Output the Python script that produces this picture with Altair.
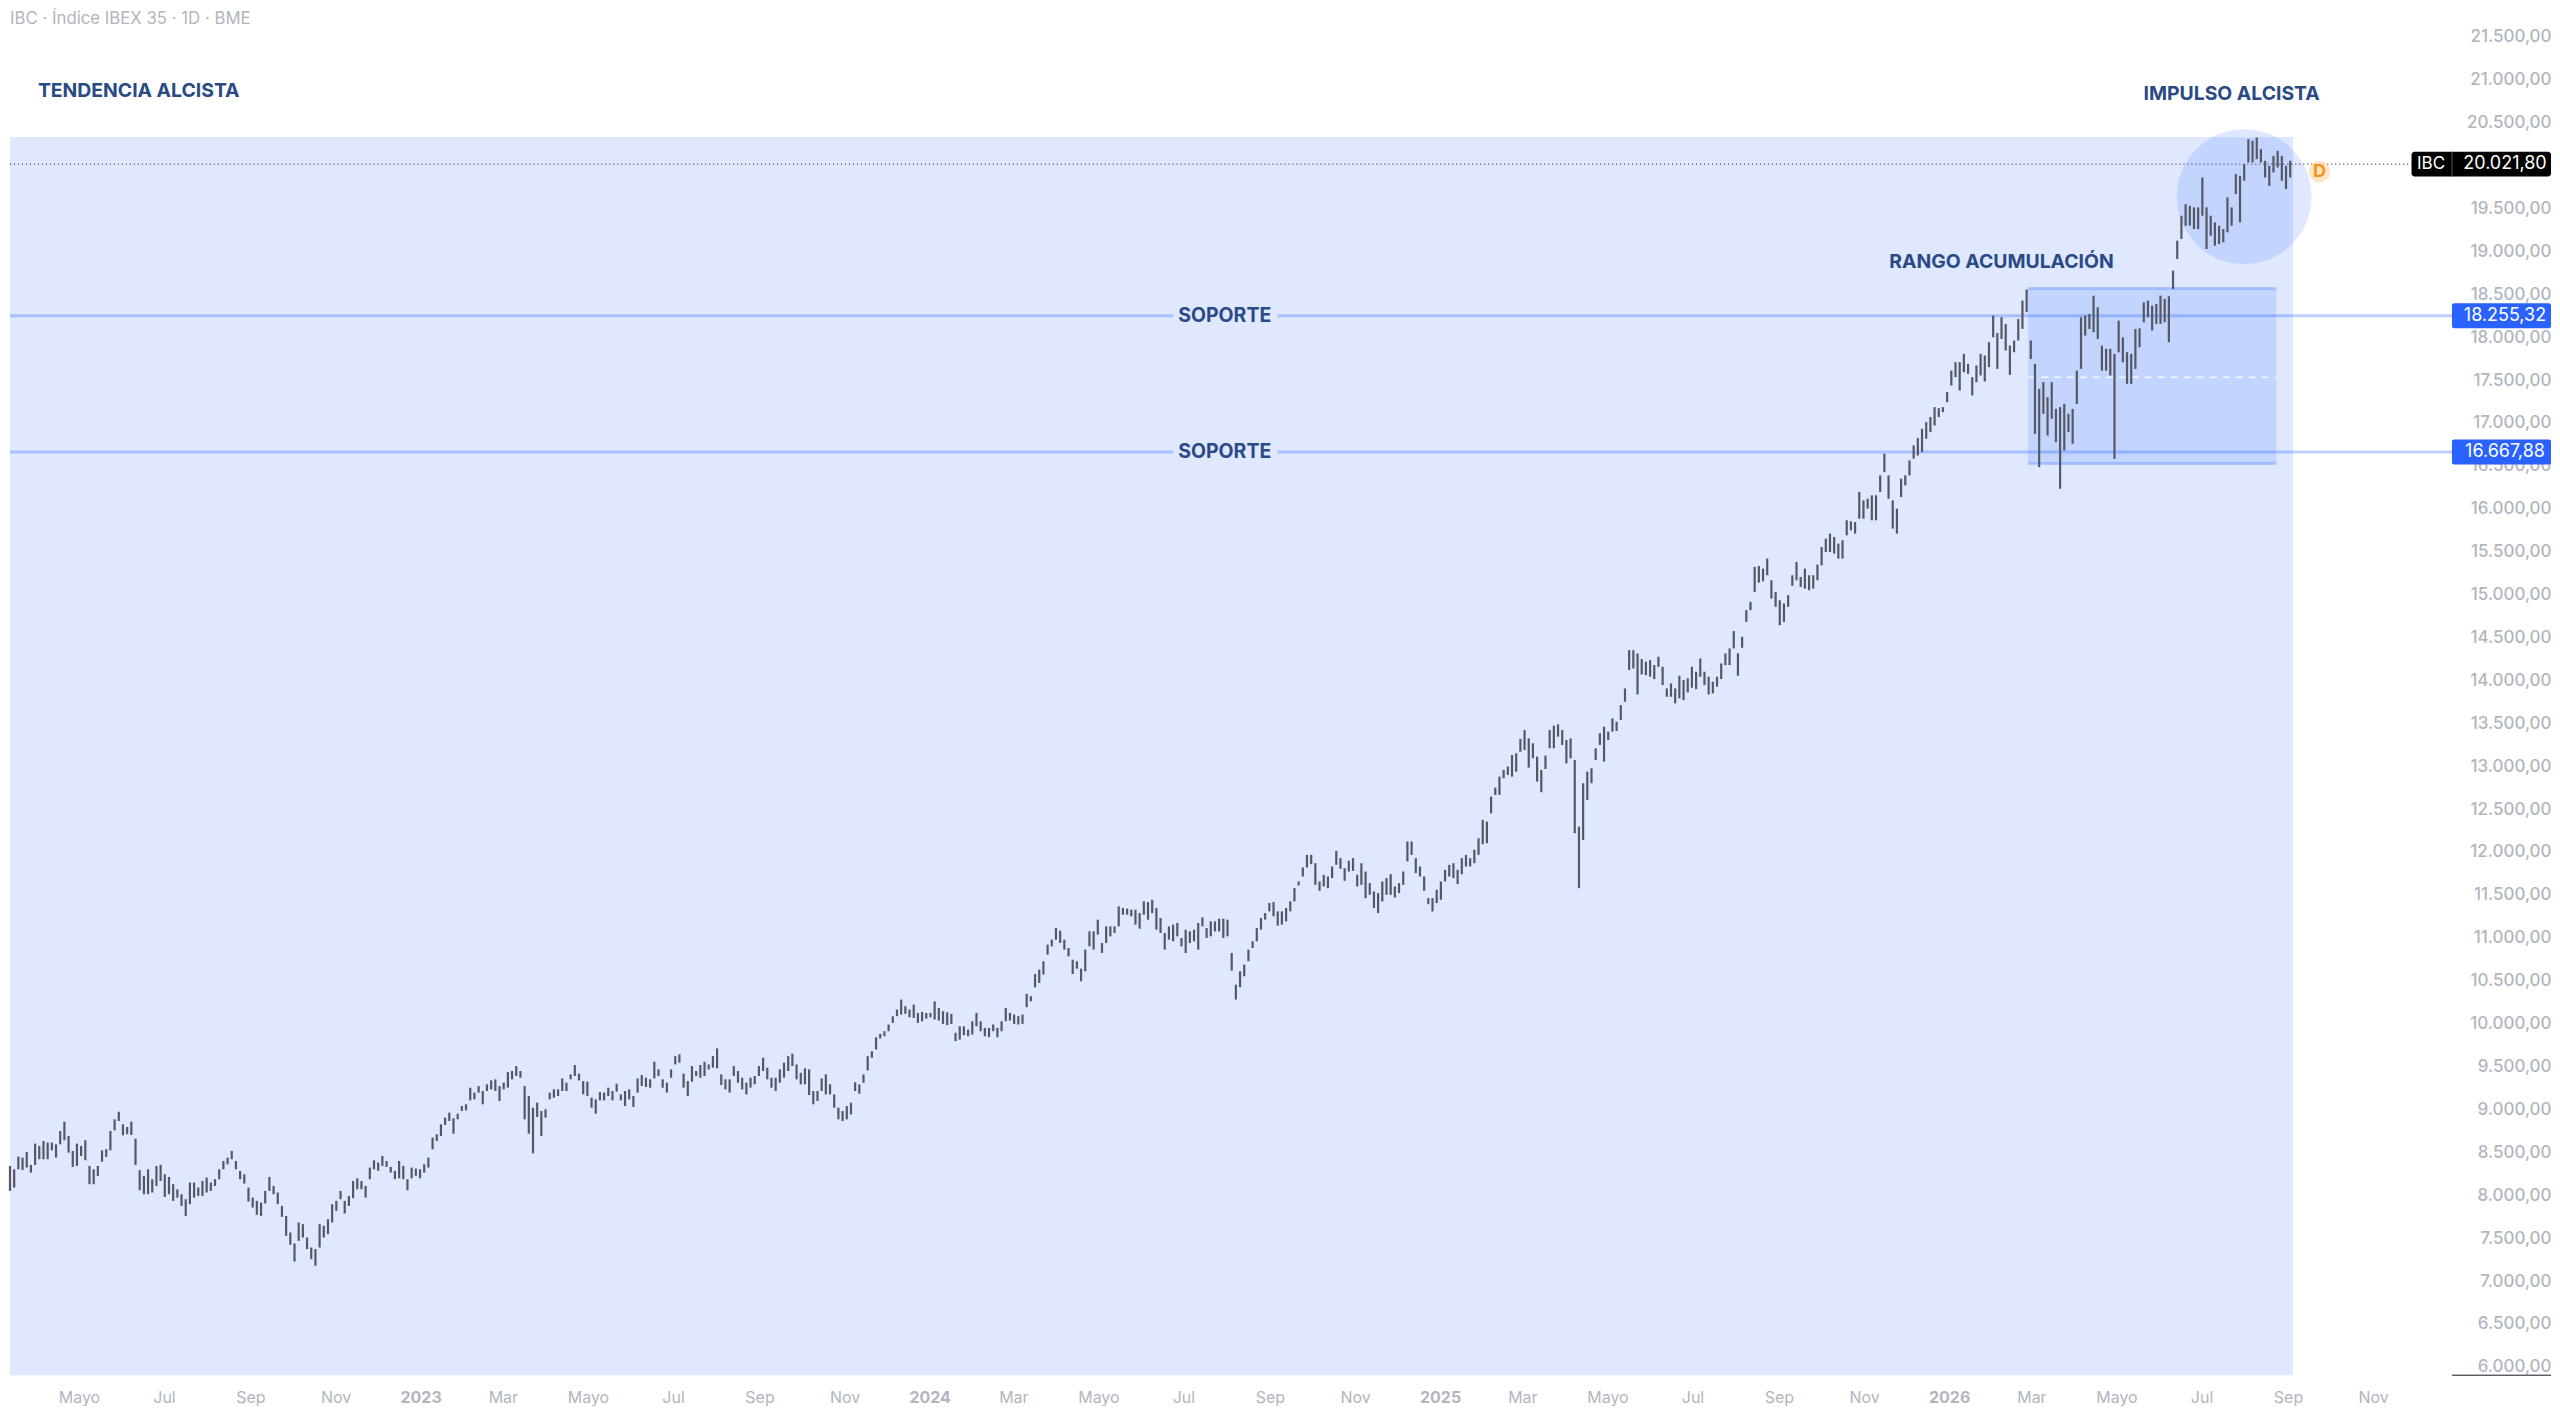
import json

import altair as alt
import pandas as pd

# bar ranges, one pair every three days from mid March 2022
high = [
    8347, 8308, 8456, 8444, 8510, 8359, 8607, 8580, 8638, 8619,
    8619, 8599, 8754, 8863, 8696, 8522, 8607, 8580, 8646, 8347,
    8308, 8347, 8529, 8541, 8754, 8890, 8979, 8832, 8801, 8863,
    8665, 8297, 8231, 8308, 8192, 8347, 8359, 8250, 8219, 8134,
    8075, 8017, 7959, 8153, 8153, 8095, 8172, 8211, 8153, 8192,
    8308, 8405, 8444, 8522, 8405, 8289, 8250, 8095, 7978, 7940,
    7920, 8056, 8219, 8114, 8037, 7881, 7765, 7571, 7443, 7687,
    7668, 7513, 7396, 7377, 7668, 7649, 7726, 7901, 7940, 8056,
    7940, 7998, 8172, 8203, 8172, 8114, 8328, 8413, 8386, 8463,
    8405, 8335, 8289, 8405,
    8347, 8192, 8328, 8316, 8308, 8366, 8444, 8677, 8716, 8832,
    8910, 8968, 8902, 8956, 9045, 9065, 9259, 9201, 9278, 9220,
    9298, 9344, 9356, 9278, 9317, 9441, 9453, 9511, 9453, 9278,
    9162, 9026, 9084, 8987, 9007, 9201, 9239, 9239, 9367, 9317,
    9414, 9523, 9422, 9336, 9329, 9142, 9123, 9208, 9201, 9259,
    9220, 9305, 9181, 9220, 9239, 9162, 9367, 9406, 9375, 9356,
    9561, 9472, 9356, 9317, 9472, 9627, 9647, 9422, 9336, 9511,
    9453, 9523, 9561, 9530, 9627, 9717, 9414, 9356, 9356, 9511,
    9453, 9375, 9317, 9375, 9395, 9511, 9608, 9492, 9375, 9375,
    9472, 9550, 9627, 9655, 9530, 9433, 9484, 9472, 9220, 9220,
    9367, 9414, 9298, 9181, 9026, 8987, 9045, 9084,
    9323, 9296, 9413, 9626, 9684, 9847, 9886, 9917, 9995, 10092,
    10169, 10286, 10208, 10169, 10227, 10130, 10142, 10130, 10130, 10266,
    10189, 10150, 10138, 10119, 9898, 9975, 9975, 9936, 10033, 10130,
    10033, 9956, 9956, 9995, 9956, 10033, 10189, 10130, 10111, 10092,
    10111, 10352, 10324, 10584, 10635, 10732, 10926, 10984, 11120, 11089,
    10984, 10887, 10751, 10732, 10646, 10868, 11081, 11081, 11217, 10945,
    11139, 11139, 11139, 11372, 11353, 11345, 11333, 11333, 11294, 11430,
    11422, 11449, 11353, 11236, 11062, 11139, 11159, 11178, 11003, 11100,
    11081, 11100, 11178, 11244, 11120, 11197, 11197, 11228, 11228, 11217,
    10829, 10460, 10615, 10693, 10868, 10965, 11120, 11236, 11294, 11411,
    11422, 11314, 11314, 11353, 11430, 11585, 11663,
    11825, 11972, 11972, 11875, 11662, 11740, 11720, 11837, 12019, 11934,
    11817, 11903, 11934, 11740, 11875, 11778, 11643, 11546, 11526, 11662,
    11701, 11747, 11604, 11643, 11778, 12128, 12128, 11934, 11837, 11720,
    11468, 11468, 11565, 11662, 11798, 11856, 11875, 11798, 11934, 11972,
    11934, 12031, 12166, 12380, 12360, 12651, 12756, 12884, 12962, 13001,
    13136, 13156, 13323, 13427, 13330, 13272, 13117, 12962, 13129, 13427,
    13478, 13493, 13427, 13311, 13330, 13078, 12302, 12807, 12942, 12981,
    13214, 13389, 13466, 13408, 13563, 13524, 13718, 13912,
    14358, 14358, 14320, 14254, 14223, 14242, 14184, 14281, 14164, 13912,
    13970, 13912, 14060, 14009, 14029, 14164, 14106, 14261, 14106, 14048,
    13990, 14048, 14203, 14320, 14378, 14580, 14320, 14514, 14824, 14921,
    15328, 15339, 15308, 15425, 15172, 15037, 14940, 14901, 14998, 15231,
    15386, 15211, 15308, 15231, 15231, 15355, 15560, 15657, 15716, 15677,
    15599, 15638, 15871, 15859, 15851, 16201, 16104, 16123, 16162, 16162,
    16395, 16647, 16395, 16104, 16007, 16356, 16395, 16569, 16744, 16829,
    16938, 17015, 17074, 17190, 17178, 17190, 17365, 17617, 17714, 17714,
    17811, 17694, 17539, 17675, 17811, 17791, 17947, 18257, 18055, 18238,
    18160, 17908, 17966, 18218, 18432, 18560,
    17966, 17694, 17403, 17481, 17306, 17481, 17170, 17190, 17228, 17112,
    17170, 17616, 18237, 18257, 18276, 18489, 18354, 17907, 17869, 17869,
    17810, 18198, 18004, 17830, 17810, 18101, 18109, 18412, 18431, 18373,
    18392, 18489, 18451, 18482, 18780, 19130, 19421, 19556, 19537, 19518,
    19518, 19867, 19518, 19421, 19343, 19304, 19265, 19634, 19518, 19906,
    19886, 20022, 20313, 20294, 20332, 20197, 20061, 20003, 20119, 20177,
    20119, 20003, 20061,
]
low = [
    8056, 8095, 8308, 8300, 8328, 8269, 8359, 8425, 8425, 8425,
    8529, 8444, 8599, 8646, 8502, 8335, 8347, 8463, 8413, 8134,
    8134, 8231, 8397, 8452, 8529, 8762, 8871, 8704, 8716, 8708,
    8359, 8064, 8017, 8017, 8037, 8114, 8172, 7986, 8017, 7940,
    7978, 7881, 7765, 7901, 7978, 7998, 7998, 8037, 8056, 8114,
    8192, 8308, 8366, 8425, 8308, 8192, 8141, 7932, 7862, 7777,
    7765, 7909, 8056, 8017, 7901, 7753, 7532, 7427, 7233, 7474,
    7513, 7377, 7261, 7183, 7396, 7513, 7552, 7687, 7823, 7959,
    7792, 7881, 7971, 8075, 8075, 7978, 8192, 8308, 8289, 8347,
    8335, 8269, 8192, 8203,
    8192, 8064, 8203, 8231, 8203, 8269, 8328, 8541, 8638, 8696,
    8824, 8871, 8723, 8890, 8987, 8995, 9111, 9123, 9201, 9065,
    9220, 9239, 9220, 9104, 9239, 9259, 9356, 9395, 9375, 8890,
    8723, 8494, 8917, 8696, 8910, 9123, 9142, 9162, 9220, 9220,
    9356, 9395, 9344, 9181, 9162, 9026, 8956, 9111, 9111, 9162,
    9111, 9212, 9111, 9045, 9123, 9034, 9201, 9278, 9267, 9259,
    9367, 9395, 9259, 9201, 9375, 9530, 9550, 9259, 9162, 9329,
    9395, 9375, 9395, 9472, 9492, 9484, 9290, 9239, 9201, 9395,
    9317, 9239, 9181, 9259, 9298, 9395, 9453, 9356, 9259, 9220,
    9317, 9375, 9453, 9511, 9356, 9298, 9298, 9173, 9065, 9104,
    9220, 9181, 9181, 9026, 8890, 8871, 8890, 8948,
    9219, 9188, 9316, 9459, 9607, 9704, 9832, 9859, 9917, 10014,
    10092, 10111, 10119, 10080, 10072, 10014, 10033, 10064, 10080, 10053,
    10041, 10002, 9987, 10002, 9801, 9820, 9870, 9859, 9878, 9975,
    9917, 9859, 9847, 9917, 9847, 9917, 10033, 10041, 10002, 9995,
    10002, 10196, 10266, 10429, 10480, 10577, 10809, 10906, 10984, 10945,
    10868, 10790, 10584, 10646, 10499, 10615, 10906, 10868, 11042, 10829,
    10945, 11023, 11062, 11139, 11275, 11275, 11256, 11159, 11112, 11275,
    11217, 11294, 11100, 11062, 10868, 10984, 10965, 11023, 10906, 10829,
    10945, 10965, 10868, 11139, 11003, 11023, 11081, 11081, 11003, 11023,
    10623, 10286, 10429, 10557, 10732, 10887, 10965, 11100, 11217, 11314,
    11256, 11147, 11159, 11197, 11314, 11430, 11616,
    11720, 11825, 11864, 11623, 11553, 11604, 11584, 11701, 11856, 11809,
    11670, 11778, 11786, 11604, 11623, 11468, 11507, 11352, 11293, 11429,
    11507, 11507, 11476, 11526, 11623, 11895, 11972, 11759, 11720, 11553,
    11398, 11313, 11410, 11449, 11662, 11720, 11701, 11631, 11747, 11837,
    11837, 11875, 11972, 12097, 12108, 12457, 12671, 12671, 12865, 12904,
    12884, 12942, 13175, 13195, 12989, 13098, 12826, 12702, 12973, 13214,
    13214, 13350, 13253, 13039, 13098, 12225, 11584, 12147, 12613, 12807,
    13078, 13253, 13059, 13311, 13408, 13416, 13544, 13757,
    14126, 14145, 13842, 14075, 14067, 14048, 14021, 14164, 13951, 13815,
    13815, 13738, 13796, 13776, 13866, 13920, 13904, 14048, 13951, 13842,
    13854, 13932, 14021, 14184, 14184, 14378, 14060, 14386, 14688, 14824,
    15037, 15145, 15161, 15231, 14959, 14862, 14649, 14687, 14862, 15107,
    15172, 15095, 15075, 15056, 15075, 15172, 15347, 15502, 15502, 15483,
    15425, 15425, 15696, 15754, 15716, 15890, 15890, 16007, 15871, 15871,
    16201, 16433, 16123, 15774, 15716, 16142, 16278, 16395, 16589, 16627,
    16666, 16821, 16899, 16977, 17074, 17132, 17248, 17442, 17539, 17384,
    17597, 17578, 17326, 17481, 17559, 17489, 17656, 18005, 17636, 17985,
    17850, 17566, 17830, 17966, 18102, 18296,
    17752, 16879, 16491, 17112, 16860, 17054, 16782, 16239, 16685, 16899,
    16763, 17228, 17636, 18024, 18101, 18063, 17985, 17616, 17616, 17558,
    16588, 17830, 17713, 17461, 17461, 17636, 17888, 18179, 18237, 18082,
    18160, 18160, 18179, 17946, 18567, 18916, 19149, 19304, 19304, 19265,
    19265, 19421, 19033, 19188, 19071, 19091, 19110, 19227, 19304, 19673,
    19343, 19828, 20041, 20041, 20080, 20041, 19867, 19770, 19925, 19983,
    19828, 19731, 19867,
]

tick_dates = [
    "2022-05-01", "2022-07-01", "2022-09-01", "2022-11-01", "2023-01-01", "2023-03-01", "2023-05-01",
    "2023-07-01", "2023-09-01", "2023-11-01", "2024-01-01", "2024-03-01", "2024-05-01", "2024-07-01",
    "2024-09-01", "2024-11-01", "2025-01-01", "2025-03-01", "2025-05-01", "2025-07-01", "2025-09-01",
    "2025-11-01", "2026-01-01", "2026-03-01", "2026-05-01", "2026-07-01", "2026-09-01", "2026-11-01",
]
tick_labels = [
    "Mayo", "Jul", "Sep", "Nov", "2023", "Mar", "Mayo",
    "Jul", "Sep", "Nov", "2024", "Mar", "Mayo", "Jul",
    "Sep", "Nov", "2025", "Mar", "Mayo", "Jul", "Sep",
    "Nov", "2026", "Mar", "Mayo", "Jul", "Sep", "Nov",
]
price_ticks = list(range(6000, 22000, 500))

last_price = 20021.80
support_prices = [18255.32, 16667.88]
support_labels = ["18.255,32", "16.667,88"]
range_top = 18572
range_bottom = 16532
range_mid = 17537

notes = ["TENDENCIA ALCISTA", "IMPULSO ALCISTA", "RANGO ACUMULACIÓN"]
note_dates = ["2022-04-03", "2026-07-24", "2026-02-09"]
note_prices = [20873, 20841, 18883]
note_aligns = ["left", "center", "center"]

DOMAIN_START = "2022-03-14"
DOMAIN_END = "2027-03-10"
PRICE_MIN = 5908
PRICE_MAX = 21832
SHADE_TOP = 20337
SHADE_END = "2026-09-06"
RANGE_START = "2026-02-28"
RANGE_END = "2026-08-25"
TAG_START = "2026-12-29"
TAG_MID = "2027-02-05"
BADGE_START = "2026-11-30"
BADGE_MID = "2026-12-14"
GAP_START = "2024-06-25"
GAP_MID = "2024-08-01"
GAP_END = "2024-09-08"

NAVY = "#2a4a85"
GREY = "#b2b5be"
BLUE = "#2962ff"
FONT = "Inter"


def ms(day):
    return int(pd.Timestamp(day, tz="UTC").timestamp() * 1000)


x_scale = alt.Scale(type="utc", domain=[ms(DOMAIN_START), ms(DOMAIN_END)])
y_scale = alt.Scale(domain=[PRICE_MIN, PRICE_MAX])

tick_map = json.dumps({str(ms(d)): label for d, label in zip(tick_dates, tick_labels)})
x_axis = alt.Axis(
    values=[ms(d) for d in tick_dates],
    labelExpr=f"{tick_map}[toNumber(datum.value)]",
    labelFontWeight={"condition": {"test": "utcmonth(datum.value) == 0", "value": "bold"}, "value": "normal"},
    title=None, grid=False, domain=False, ticks=False,
    labelColor=GREY, labelFont=FONT, labelFontSize=16, labelPadding=14, labelOffset=2,
    labelOverlap=False, labelFlush=False,
)
y_axis = alt.Axis(
    orient="right", values=price_ticks,
    labelExpr="replace(replace(replace(format(datum.value, ',.2f'), ',', '_'), '.', ','), '_', '.')",
    title=None, grid=False, domain=False, ticks=False,
    labelColor=GREY, labelFont=FONT, labelFontSize=17, labelFontWeight=500,
    labelAlign="right", labelPadding=0, labelOverlap=False, labelBound=False, labelOffset=-0.5,
)


def x_at(field):
    return alt.X(f"{field}:T", scale=x_scale, axis=x_axis)


def y_at(field):
    return alt.Y(f"{field}:Q", scale=y_scale, axis=y_axis)


def area(x1, x2, y1, y2, **style):
    table = pd.DataFrame({"x1": [x1], "x2": [x2], "y1": [y1], "y2": [y2]})
    return alt.Chart(table).mark_rect(**style).encode(
        x=x_at("x1"), x2="x2:T", y=y_at("y1"), y2="y2:Q"
    )


def level(x1, x2, price, **style):
    table = pd.DataFrame({"x1": [x1], "x2": [x2], "price": [price]})
    return alt.Chart(table).mark_rule(**style).encode(x=x_at("x1"), x2="x2:T", y=y_at("price"))


def label(day, price, text, **style):
    table = pd.DataFrame({"day": [day], "price": [price], "text": [text]})
    return alt.Chart(table).mark_text(font=FONT, **style).encode(x=x_at("day"), y=y_at("price"), text="text:N")


layers = [
    area(DOMAIN_START, SHADE_END, PRICE_MIN, SHADE_TOP, color=BLUE, opacity=0.15),
    area(RANGE_START, RANGE_END, range_bottom, range_top, color=BLUE, opacity=0.15),
    level(RANGE_START, RANGE_END, range_top, color=BLUE, opacity=0.25, strokeWidth=3),
    level(RANGE_START, RANGE_END, range_bottom, color=BLUE, opacity=0.25, strokeWidth=3),
    level(RANGE_START, RANGE_END, range_mid, color="white", opacity=0.8, strokeWidth=1.5, strokeDash=[7, 6]),
]

circle_table = pd.DataFrame({"day": ["2026-08-02"], "price": [19643]})
layers.append(
    alt.Chart(circle_table).mark_circle(color=BLUE, opacity=0.15, size=18225).encode(x=x_at("day"), y=y_at("price"))
)

for price in support_prices:
    layers.append(level(DOMAIN_START, GAP_START, price, color=BLUE, opacity=0.3, strokeWidth=3))
    layers.append(level(GAP_END, TAG_START, price, color=BLUE, opacity=0.3, strokeWidth=3))
    layers.append(label(GAP_MID, price, "SOPORTE", color=NAVY, fontSize=19.5, fontWeight="bold"))

layers.append(level(DOMAIN_START, BADGE_START, last_price, color="#131722", strokeWidth=1, strokeDash=[1, 3]))

bars = pd.DataFrame({
    "date": pd.date_range(DOMAIN_START, periods=len(high), freq="3D").strftime("%Y-%m-%d"),
    "low": low,
    "high": high,
})
layers.append(
    alt.Chart(bars).mark_rule(color="#555863", strokeWidth=2.2).encode(
        x=x_at("date"), y=y_at("low"), y2="high:Q"
    )
)

for text, day, price, align in zip(notes, note_dates, note_prices, note_aligns):
    layers.append(label(day, price, text, color=NAVY, fontSize=19.4, fontWeight="bold", align=align))

# header, orange marker and the tags on the price scale
layers.append(label(DOMAIN_START, 21715, "IBC · Índice IBEX 35 · 1D · BME", color=GREY, fontSize=16.8, align="left"))

marker = pd.DataFrame({"day": ["2026-09-25"], "price": [19934]})
layers.append(alt.Chart(marker).mark_circle(color="#fbdcae", opacity=0.7, size=460).encode(x=x_at("day"), y=y_at("price")))
layers.append(label("2026-09-25", 19934, "D", color="#f7931a", fontSize=18, fontWeight="bold"))

layers.append(area(BADGE_START, DOMAIN_END, last_price - 145, last_price + 145, color="#000000", cornerRadius=3))
divider = pd.DataFrame({"day": [TAG_START], "y1": [last_price - 145], "y2": [last_price + 145]})
layers.append(alt.Chart(divider).mark_rule(color="#50535e", strokeWidth=1).encode(x=x_at("day"), y=y_at("y1"), y2="y2:Q"))
layers.append(label(BADGE_MID, last_price, "IBC", color="white", fontSize=17))
layers.append(label(TAG_MID, last_price, "20.021,80", color="white", fontSize=18))

for price, text in zip(support_prices, support_labels):
    layers.append(area(TAG_START, DOMAIN_END, price - 145, price + 145, color="#2962ff", cornerRadius=2))
    layers.append(label(TAG_MID, price, text, color="white", fontSize=18))

layers.append(level(TAG_START, DOMAIN_END, PRICE_MIN, color="#131722", strokeWidth=1))

chart = (
    alt.layer(*layers)
    .properties(width=2544, height=1368, padding=0, background="white")
    .configure_view(stroke=None)
)
chart.save("out.html", embed_options={"renderer": "svg", "actions": False})
